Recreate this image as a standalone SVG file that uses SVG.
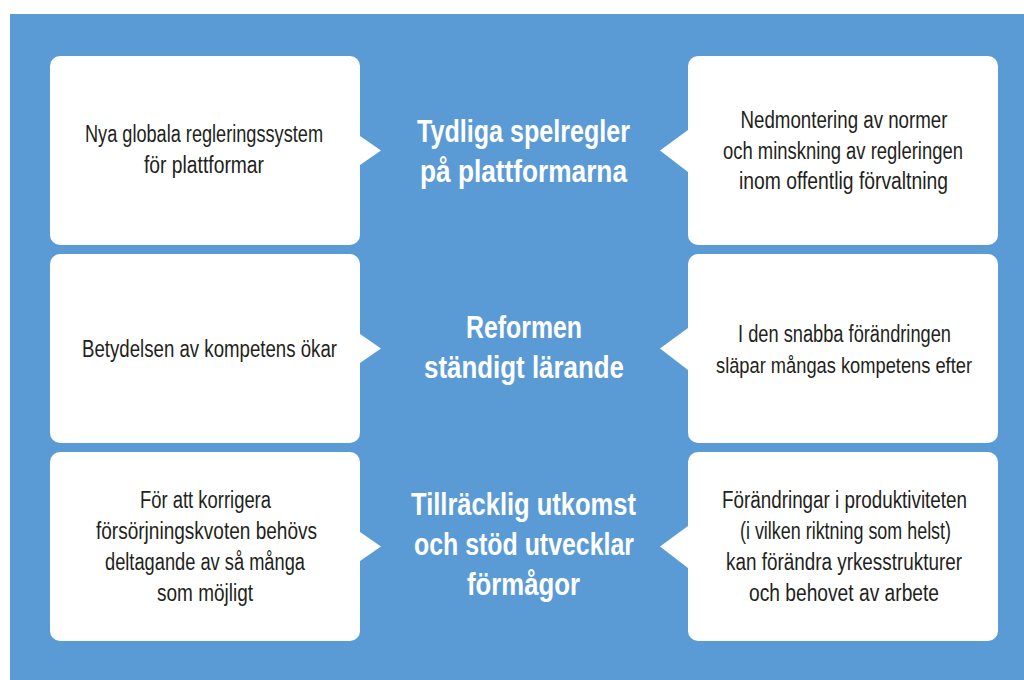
<svg xmlns="http://www.w3.org/2000/svg" width="1024" height="680" viewBox="0 0 1024 680">
<style>
.box{fill:#ffffff}
.t{font-family:"Liberation Sans",Arial,sans-serif;font-size:23px;fill:#231f20;text-anchor:middle}
.h{font-family:"Liberation Sans",Arial,sans-serif;font-size:31px;font-weight:bold;fill:#ffffff;text-anchor:middle}
</style>
<rect x="0" y="0" width="1024" height="680" fill="#ffffff"/>
<rect x="10" y="14" width="1014" height="666" fill="#5b9bd5"/>
<g id="connectors"></g>
<g id="row1-left">
<path class="box" d="M60,56 H350 A10,10 0 0 1 360,66 V136 L381,150.5 L360,165 V235 A10,10 0 0 1 350,245 H60 A10,10 0 0 1 50,235 V66 A10,10 0 0 1 60,56 Z"/>
<text class="t" x="204" y="142" textLength="238" lengthAdjust="spacingAndGlyphs">Nya globala regleringssystem</text>
<text class="t" x="204" y="173" textLength="120" lengthAdjust="spacingAndGlyphs">för plattformar</text>
</g>
<g id="row1-center">
<text class="h" x="523.5" y="142" textLength="213" lengthAdjust="spacingAndGlyphs">Tydliga spelregler</text>
<text class="h" x="523.5" y="182" textLength="207" lengthAdjust="spacingAndGlyphs">på plattformarna</text>
</g>
<g id="row1-right">
<path class="box" d="M698,56 H988 A10,10 0 0 1 998,66 V235 A10,10 0 0 1 988,245 H698 A10,10 0 0 1 688,235 V172 L660,150.5 L688,130 V66 A10,10 0 0 1 698,56 Z"/>
<text class="t" x="844" y="128" textLength="207" lengthAdjust="spacingAndGlyphs">Nedmontering av normer</text>
<text class="t" x="843" y="159" textLength="240" lengthAdjust="spacingAndGlyphs">och minskning av regleringen</text>
<text class="t" x="843.5" y="189" textLength="209" lengthAdjust="spacingAndGlyphs">inom offentlig förvaltning</text>
</g>
<g id="row2-left">
<path class="box" d="M60,254 H350 A10,10 0 0 1 360,264 V334 L381,348.5 L360,363 V433 A10,10 0 0 1 350,443 H60 A10,10 0 0 1 50,433 V264 A10,10 0 0 1 60,254 Z"/>
<text class="t" x="209.5" y="357" textLength="255" lengthAdjust="spacingAndGlyphs">Betydelsen av kompetens ökar</text>
</g>
<g id="row2-center">
<text class="h" x="524" y="338" textLength="116" lengthAdjust="spacingAndGlyphs">Reformen</text>
<text class="h" x="524" y="378" textLength="200" lengthAdjust="spacingAndGlyphs">ständigt lärande</text>
</g>
<g id="row2-right">
<path class="box" d="M698,254 H988 A10,10 0 0 1 998,264 V433 A10,10 0 0 1 988,443 H698 A10,10 0 0 1 688,433 V370 L660,348.5 L688,328 V264 A10,10 0 0 1 698,254 Z"/>
<text class="t" x="844.5" y="342" textLength="213" lengthAdjust="spacingAndGlyphs">I den snabba förändringen</text>
<text class="t" x="844" y="373" style="font-size:22px" textLength="256" lengthAdjust="spacingAndGlyphs">släpar mångas kompetens efter</text>
</g>
<g id="row3-left">
<path class="box" d="M60,452 H350 A10,10 0 0 1 360,462 V532 L381,546.5 L360,561 V631 A10,10 0 0 1 350,641 H60 A10,10 0 0 1 50,631 V462 A10,10 0 0 1 60,452 Z"/>
<text class="t" x="205.5" y="508" textLength="131" lengthAdjust="spacingAndGlyphs">För att korrigera</text>
<text class="t" x="206.5" y="539" textLength="221" lengthAdjust="spacingAndGlyphs">försörjningskvoten behövs</text>
<text class="t" x="205" y="570" textLength="200" lengthAdjust="spacingAndGlyphs">deltagande av så många</text>
<text class="t" x="205" y="601" textLength="96" lengthAdjust="spacingAndGlyphs">som möjligt</text>
</g>
<g id="row3-center">
<text class="h" x="523.5" y="515" textLength="225" lengthAdjust="spacingAndGlyphs">Tillräcklig utkomst</text>
<text class="h" x="524" y="555" textLength="220" lengthAdjust="spacingAndGlyphs">och stöd utvecklar</text>
<text class="h" x="523.5" y="595" textLength="113" lengthAdjust="spacingAndGlyphs">förmågor</text>
</g>
<g id="row3-right">
<path class="box" d="M698,452 H988 A10,10 0 0 1 998,462 V631 A10,10 0 0 1 988,641 H698 A10,10 0 0 1 688,631 V568 L660,546.5 L688,526 V462 A10,10 0 0 1 698,452 Z"/>
<text class="t" x="844.5" y="508" textLength="245" lengthAdjust="spacingAndGlyphs">Förändringar i produktiviteten</text>
<text class="t" x="845.5" y="539" textLength="211" lengthAdjust="spacingAndGlyphs">(i vilken riktning som helst)</text>
<text class="t" x="844" y="570" textLength="236" lengthAdjust="spacingAndGlyphs">kan förändra yrkesstrukturer</text>
<text class="t" x="844" y="601" textLength="190" lengthAdjust="spacingAndGlyphs">och behovet av arbete</text>
</g>
</svg>
